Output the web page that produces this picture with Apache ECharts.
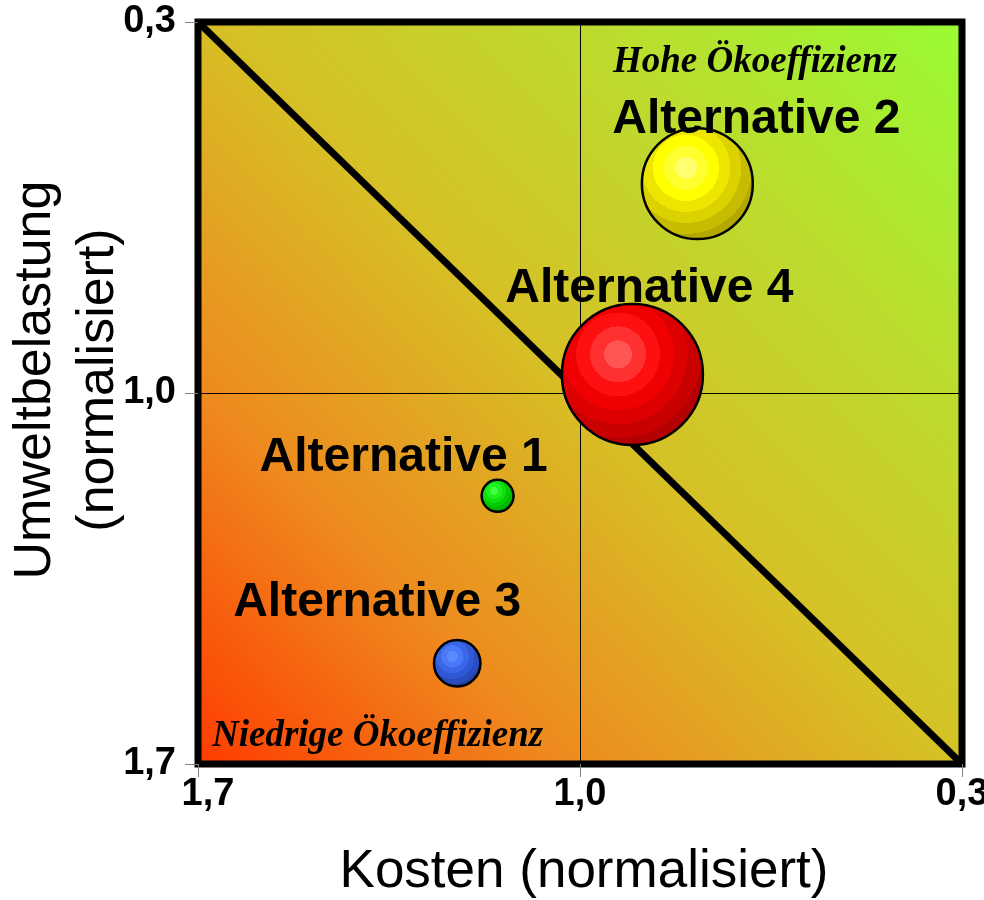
<!DOCTYPE html>
<html>
<head>
<meta charset="utf-8">
<script src="https://cdn.jsdelivr.net/npm/echarts@6/dist/echarts.min.js"></script>
<style>
  html, body { margin: 0; padding: 0; background: #fff; }
  #chart { width: 984px; height: 900px; }
</style>
</head>
<body>
<div id="chart"></div>
<script>
// Ökoeffizienz-Portfolio: Kosten vs. Umweltbelastung (beide normalisiert)
const alternativen = ['Alternative 1', 'Alternative 2', 'Alternative 3', 'Alternative 4'];
const kosten       = [1.151, 0.785, 1.225, 0.904];
const umwelt       = [1.194, 0.605, 1.510, 0.965];
const gewicht      = [10.2, 123, 21.6, 199];      // Blasengröße (Flächenmaß)
const achsenTicks  = [0.3, 1.0, 1.7];
const diagonale    = [[1.7, 0.3], [0.3, 1.7]];

// Farben der Blasen (innen -> außen) für die abgestuften Kugel-Verläufe
const kugelFarben = [
  ['#40ff40', '#20f020', '#10e010', '#00cc00', '#00b800', '#00a800'],
  ['#ffff70', '#ffff30', '#ffff00', '#eee600', '#dcd200', '#c8bc00', '#b4a800'],
  ['#5a88ff', '#4a78f8', '#3a66e8', '#3058d4', '#2a4cc0', '#2442a8'],
  ['#ff5555', '#ff3030', '#ff1010', '#f00000', '#dc0000', '#c80000', '#b40000']
];

// Label-Versatz relativ zur Blasenoberkante
const labelVersatz = [[-94, 3], [59, 17], [-80, -12], [17, 10]];

function kugel(farben) {
  const stops = [];
  const n = farben.length;
  farben.forEach((c, i) => {
    stops.push({ offset: i / n, color: c });
    stops.push({ offset: (i + 1) / n, color: c });
  });
  return new echarts.graphic.RadialGradient(0.4, 0.36, 0.68, stops);
}

const fmt = v => (Math.round(v * 10) / 10).toFixed(1).replace('.', ',');
const sansBold = { fontFamily: '"Liberation Sans", Arial, sans-serif', fontWeight: 'bold', color: '#000' };

const hintergrund = new echarts.graphic.LinearGradient(0, 1, 1, 0, [
  { offset: 0.00, color: '#ff3a00' },
  { offset: 0.25, color: '#ee8a1e' },
  { offset: 0.50, color: '#d6c026' },
  { offset: 0.75, color: '#bcdc2e' },
  { offset: 1.00, color: '#98fc34' }
]);

const achse = {
  type: 'value',
  min: achsenTicks[0],
  max: achsenTicks[achsenTicks.length - 1],
  interval: 0.7,
  inverse: true,
  axisLine: { show: false },
  axisTick: { show: true, inside: false, length: 13, lineStyle: { color: '#808080', width: 1 } },
  splitLine: { show: true, lineStyle: { color: '#000', width: 1 } },
  axisLabel: Object.assign({ fontSize: 38, formatter: fmt }, sansBold),
  nameLocation: 'middle',
  nameMoveOverlap: false
};

const blasen = alternativen.map((name, i) => ({
  name: name,
  value: [kosten[i], umwelt[i], gewicht[i]],
  itemStyle: { color: kugel(kugelFarben[i]), borderColor: '#000', borderWidth: 2.5, opacity: 1 },
  label: { offset: labelVersatz[i] }
}));

const chart = echarts.init(document.getElementById('chart'), null, { renderer: 'canvas' });
chart.setOption({
  animation: false,
  backgroundColor: '#fff',
  grid: {
    left: 198, right: 22, top: 22, bottom: 136,
    containLabel: false,
    outerBoundsMode: 'none',
    show: true,
    backgroundColor: hintergrund,
    borderColor: '#000',
    borderWidth: 7
  },
  xAxis: Object.assign({}, achse, {
    position: 'bottom',
    name: 'Kosten (normalisiert)',
    nameGap: 82,
    nameTextStyle: { fontSize: 53, fontFamily: '"Liberation Sans", Arial, sans-serif', color: '#000', padding: [0, 0, 0, 8] },
    axisLabel: Object.assign({}, achse.axisLabel, {
      margin: 12,
      // erstes Label etwas nach rechts gerückt
      formatter: v => Math.abs(v - achsenTicks[achsenTicks.length - 1]) < 1e-6 ? '{rand|' + fmt(v) + '}' : fmt(v),
      rich: { rand: Object.assign({ fontSize: 38, padding: [0, 0, 0, 20] }, sansBold) }
    })
  }),
  yAxis: Object.assign({}, achse, {
    position: 'left',
    name: 'Umweltbelastung\n(normalisiert)',
    nameRotate: 90,
    nameGap: 68,
    nameTextStyle: {
      fontSize: 52, lineHeight: 63, fontFamily: '"Liberation Sans", Arial, sans-serif',
      color: '#000', padding: [0, 0, 0, 26]
    },
    axisLabel: Object.assign({}, achse.axisLabel, { margin: 22 })
  }),
  graphic: [
    {
      type: 'text', left: 613, top: 44, z: 10,
      style: {
        text: 'Hohe Ökoeffizienz',
        font: 'italic bold 37px "Liberation Serif", "Times New Roman", serif',
        fill: '#000'
      }
    },
    {
      type: 'text', left: 212, top: 718, z: 10,
      style: {
        text: 'Niedrige Ökoeffizienz',
        font: 'italic bold 37px "Liberation Serif", "Times New Roman", serif',
        fill: '#000'
      }
    }
  ],
  series: [
    {
      type: 'line',
      data: diagonale,
      symbol: 'none',
      lineStyle: { color: '#000', width: 7 },
      z: 2,
      silent: true
    },
    {
      type: 'scatter',
      data: blasen,
      symbolSize: v => Math.sqrt(v[2]) * 10,
      z: 3,
      itemStyle: { opacity: 1 },
      label: Object.assign({
        show: true,
        position: 'top',
        distance: 0,
        fontSize: 48,
        opacity: 1,
        formatter: p => p.name
      }, sansBold)
    }
  ]
});
</script>
</body>
</html>
